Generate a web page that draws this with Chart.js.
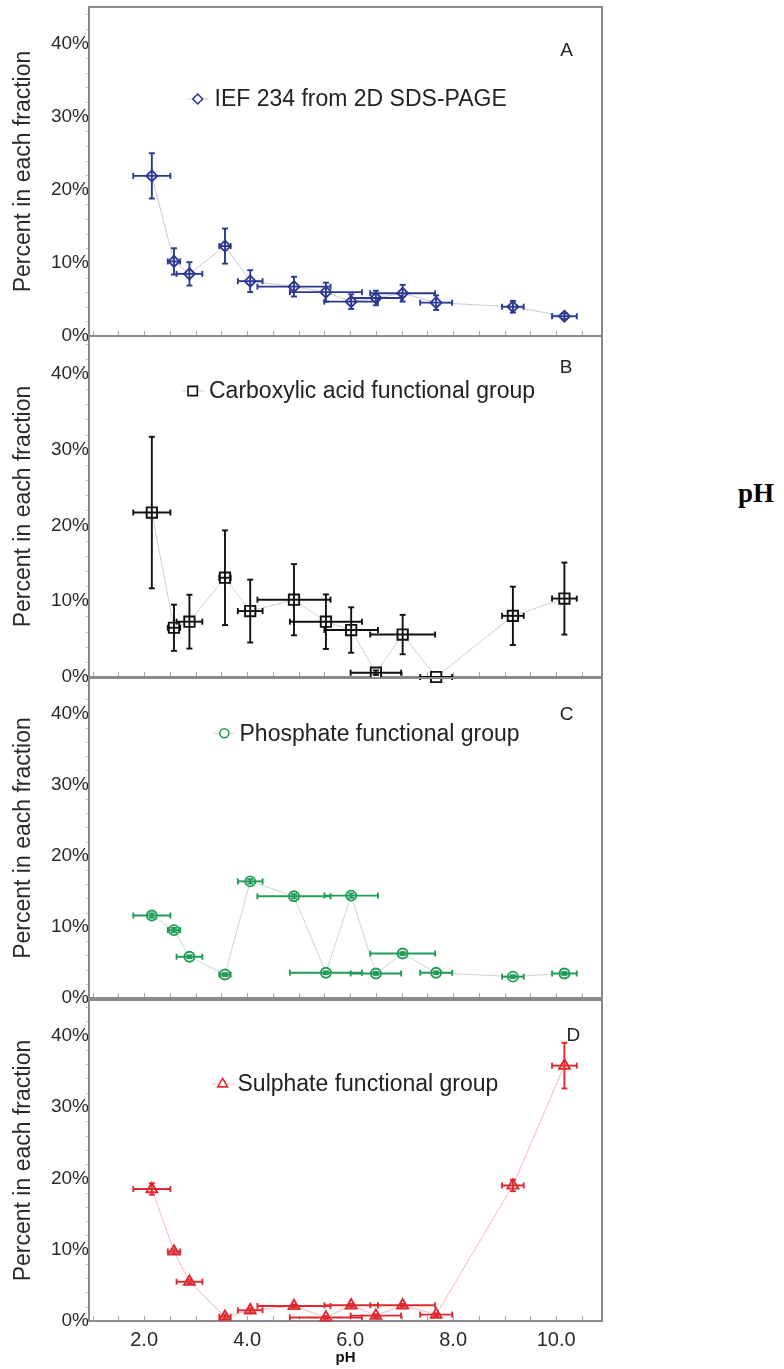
<!DOCTYPE html>
<html><head><meta charset="utf-8">
<script src="https://cdn.jsdelivr.net/npm/chart.js@4.4.1/dist/chart.umd.min.js"></script>
<style>
html,body{margin:0;padding:0;background:#fff;}
#wrap{position:relative;width:784px;height:1369px;overflow:hidden;background:#fff;}
#wrap canvas{position:absolute;left:0;}
#stray{position:absolute;left:738px;top:478px;font:bold 27px "Liberation Serif","Times New Roman",serif;color:#000;line-height:30px;}
</style>
</head><body>
<div id="wrap"><div id="stray">pH</div></div>
<script>
// ---- data ----
const pH     = [2.15, 2.58, 2.88, 3.57, 4.06, 4.91, 5.53, 6.02, 6.50, 7.02, 7.67, 9.16, 10.16];
const pHErr  = [0.36, 0.12, 0.25, 0.11, 0.24, 0.71, 0.70, 0.52, 0.49, 0.63, 0.31, 0.21, 0.24];
const iefPct  = [21.9, 10.2, 8.5, 12.3, 7.5, 6.75, 6.0, 4.7, 5.2, 5.85, 4.56, 4.0, 2.7];
const iefErr  = [3.1, 1.8, 1.6, 2.4, 1.5, 1.35, 1.3, 1.0, 1.0, 1.15, 1.0, 0.8, 0.4];
const carbPct = [21.7, 6.5, 7.3, 13.1, 8.7, 10.2, 7.3, 6.2, 0.57, 5.6, 0, 8.07, 10.35];
const carbErr = [10.0, 3.05, 3.55, 6.25, 4.15, 4.7, 3.6, 3.0, 0.3, 2.6, 0, 3.85, 4.75];
const phosPct = [11.6, 9.55, 5.8, 3.3, 16.4, 14.3, 3.55, 14.4, 3.45, 6.25, 3.55, 3.0, 3.45];
const phosErr = [0.3, 0.3, 0.2, 0.2, 0.3, 0.3, 0.2, 0.3, 0.2, 0.2, 0.2, 0.2, 0.2];
const sulPct  = [18.5, 9.75, 5.5, 0.6, 1.5, 2.1, 0.5, 2.2, 0.75, 2.2, 0.9, 19.0, 35.8];
const sulErr  = [0.8, 0.3, 0.3, 0.3, 0.3, 0.2, 0.2, 0.2, 0.2, 0.2, 0.2, 0.8, 3.2];
const seriesNames = ['IEF 234 from 2D SDS-PAGE', 'Carboxylic acid functional group', 'Phosphate functional group', 'Sulphate functional group'];
const panelLetters = ['A', 'B', 'C', 'D'];
const yTickValues = [0, 10, 20, 30, 40];
const xTickValues = [2, 4, 6, 8, 10];
const xMinorValues = [1,1.5,2,2.5,3,3.5,4,4.5,5,5.5,6,6.5,7,7.5,8,8.5,9,9.5,10,10.5];
const yMinorValues = [2,4,6,8,12,14,16,18,22,24,26,28,32,34,36,38,42,44];

const FONT = '"Liberation Sans", Arial, Helvetica, sans-serif';

// ---- styles / layout ----
const panels = [
  {values: iefPct,  errors: iefErr,  color:'#2b3990', lineColor:'#c8c8d4', style:'rectRot',  radius:5.5,
   top:7,    bottom:336,  legend:{mx:197.7, my:99,    tx:214.5}, letter:{x:566.7, y:50}},
  {values: carbPct, errors: carbErr, color:'#111111', lineColor:'#cfcfcf', style:'rect',     radius:7.3,
   top:336,  bottom:677,  legend:{mx:192.7, my:391,   tx:209}, letter:{x:566, y:366.7}},
  {values: phosPct, errors: phosErr, color:'#1f9b55', lineColor:'#cdd5d0', style:'circle',   radius:5,
   top:678,  bottom:998,  legend:{mx:224.3, my:733.3, tx:239.5}, letter:{x:566.7, y:713.3}},
  {values: sulPct,  errors: sulErr,  color:'#dc2a30', lineColor:'#f2b9b9', style:'triangle', radius:6.3,
   top:1000, bottom:1321, legend:{mx:222.7, my:1084,  tx:237.5}, letter:{x:573.3, y:1034.3}}
];

function drawMarker(ctx, style, r, x, y, color, bw) {
  ctx.save();
  ctx.strokeStyle = color; ctx.fillStyle = '#fff'; ctx.lineWidth = bw;
  if (Chart.helpers && Chart.helpers.drawPoint) {
    Chart.helpers.drawPoint(ctx, {pointStyle: style, rotation: 0, radius: r, borderWidth: bw}, x, y);
  } else {
    ctx.beginPath(); ctx.arc(x, y, r, 0, Math.PI*2); ctx.fill(); ctx.stroke();
  }
  ctx.restore();
}

const deco = {
  id: 'deco',
  beforeDatasetsDraw(chart) {
    const ctx = chart.ctx, a = chart.chartArea;
    const xs = chart.scales.x, ys = chart.scales.y;
    ctx.save();
    ctx.strokeStyle = '#a8a8a8'; ctx.lineWidth = 1;
    xMinorValues.forEach(v => {
      const px = Math.round(xs.getPixelForValue(v)) + 0.5;
      ctx.beginPath(); ctx.moveTo(px, a.bottom); ctx.lineTo(px, a.bottom - 5); ctx.stroke();
    });
    ctx.strokeStyle = '#c4c4c4';
    yMinorValues.forEach(v => {
      const py = Math.round(ys.getPixelForValue(v)) + 0.5;
      ctx.beginPath(); ctx.moveTo(a.left, py); ctx.lineTo(a.left - 3, py); ctx.stroke();
    });
    ctx.strokeStyle = '#8a8a8a'; ctx.lineWidth = 2;
    ctx.strokeRect(a.left, a.top, a.right - a.left, a.bottom - a.top);
    ctx.restore();
  },
  afterDatasetsDraw(chart) {
    const p = chart.options.plugins.deco.panel;
    const ctx = chart.ctx;
    const xs = chart.scales.x, ys = chart.scales.y;
    ctx.save();
    ctx.strokeStyle = p.color; ctx.lineWidth = 1.9; ctx.lineCap = 'butt';
    const seg = (x0, y0, x1, y1) => { ctx.beginPath(); ctx.moveTo(x0, y0); ctx.lineTo(x1, y1); ctx.stroke(); };
    const cap = 3;
    pH.forEach((x, k) => {
      const y = p.values[k], ex = pHErr[k], ey = p.errors[k];
      const px = xs.getPixelForValue(x), py = ys.getPixelForValue(y);
      if (ex > 0) {
        const x0 = xs.getPixelForValue(x - ex), x1 = xs.getPixelForValue(x + ex);
        seg(x0, py, x1, py); seg(x0, py - cap, x0, py + cap); seg(x1, py - cap, x1, py + cap);
      }
      if (ey > 0) {
        const y0 = ys.getPixelForValue(Math.max(0, y - ey)), y1 = ys.getPixelForValue(y + ey);
        seg(px, y0, px, y1); seg(px - cap, y0, px + cap, y0); seg(px - cap, y1, px + cap, y1);
      }
    });
    ctx.restore();
  },
  afterDraw(chart) {
    const o = chart.options.plugins.deco;
    const p = o.panel, off = o.canvasTop;
    const ctx = chart.ctx;
    ctx.save();
    const ly = p.legend.my - off;
    ctx.strokeStyle = p.lineColor; ctx.lineWidth = 1;
    ctx.beginPath(); ctx.moveTo(p.legend.mx - 11, ly); ctx.lineTo(p.legend.mx + 11, ly); ctx.stroke();
    drawMarker(ctx, p.style, p.radius * 0.9, p.legend.mx, ly, p.color, 1.6);
    ctx.fillStyle = '#222'; ctx.font = '23px ' + FONT; ctx.textBaseline = 'middle'; ctx.textAlign = 'left';
    ctx.fillText(o.name, p.legend.tx, ly + 1);
    ctx.font = '19px ' + FONT; ctx.textAlign = 'center';
    ctx.fillText(o.letterText, p.letter.x, p.letter.y - off + 1);
    ctx.restore();
  }
};

const wrap = document.getElementById('wrap');
panels.forEach((p, i) => {
  const last = i === panels.length - 1;
  const canvasTop = p.top - 20;
  const H = last ? 1369 - canvasTop : (p.bottom - p.top) + 40;
  const cv = document.createElement('canvas');
  cv.width = 784; cv.height = H;
  cv.style.top = canvasTop + 'px'; cv.style.width = '784px'; cv.style.height = H + 'px';
  wrap.appendChild(cv);
  new Chart(cv.getContext('2d'), {
    type: 'scatter',
    data: {datasets: [{
      label: seriesNames[i],
      data: pH.map((x, k) => ({x: x, y: p.values[k]})),
      showLine: true, borderColor: p.lineColor, borderWidth: 1, tension: 0,
      pointStyle: p.style, pointRadius: p.radius, pointBorderColor: p.color,
      pointBackgroundColor: '#ffffff', pointBorderWidth: 1.9, clip: false
    }]},
    options: {
      responsive: false, animation: false, devicePixelRatio: 1,
      layout: {padding: {top: 20, bottom: last ? 0 : 20, left: 0, right: 182}},
      plugins: {
        legend: {display: false}, tooltip: {enabled: false},
        deco: {panel: p, canvasTop: canvasTop, name: seriesNames[i], letterText: panelLetters[i]}
      },
      scales: {
        x: {
          type: 'linear', min: 0.93, max: 10.89, display: last,
          grid: {display: false, drawTicks: false}, border: {display: false},
          afterBuildTicks: s => { s.ticks = xTickValues.map(v => ({value: v})); },
          afterFit: s => { s.height = last ? 48 : 0; },
          ticks: {padding: 7, color: '#2a2a2a', font: {family: FONT, size: 20},
                  callback: v => Number(v).toFixed(1), maxRotation: 0, autoSkip: false},
          title: {display: last, text: 'pH', color: '#111', font: {family: FONT, size: 15, weight: 'bold'},
                  padding: {top: 0, bottom: 2}}
        },
        y: {
          min: 0, max: 45,
          grid: {display: false, drawTicks: false}, border: {display: false},
          afterBuildTicks: s => { s.ticks = yTickValues.map(v => ({value: v})); },
          afterFit: s => { s.width = 89; },
          ticks: {padding: 0, color: '#2a2a2a', font: {family: FONT, size: 19}, callback: v => v + '%', autoSkip: false},
          title: {display: true, text: 'Percent in each fraction', color: '#2a2a2a',
                  font: {family: FONT, size: 23}, padding: {top: 10, bottom: 0}}
        }
      }
    },
    plugins: [deco]
  });
});
</script>
</body></html>
